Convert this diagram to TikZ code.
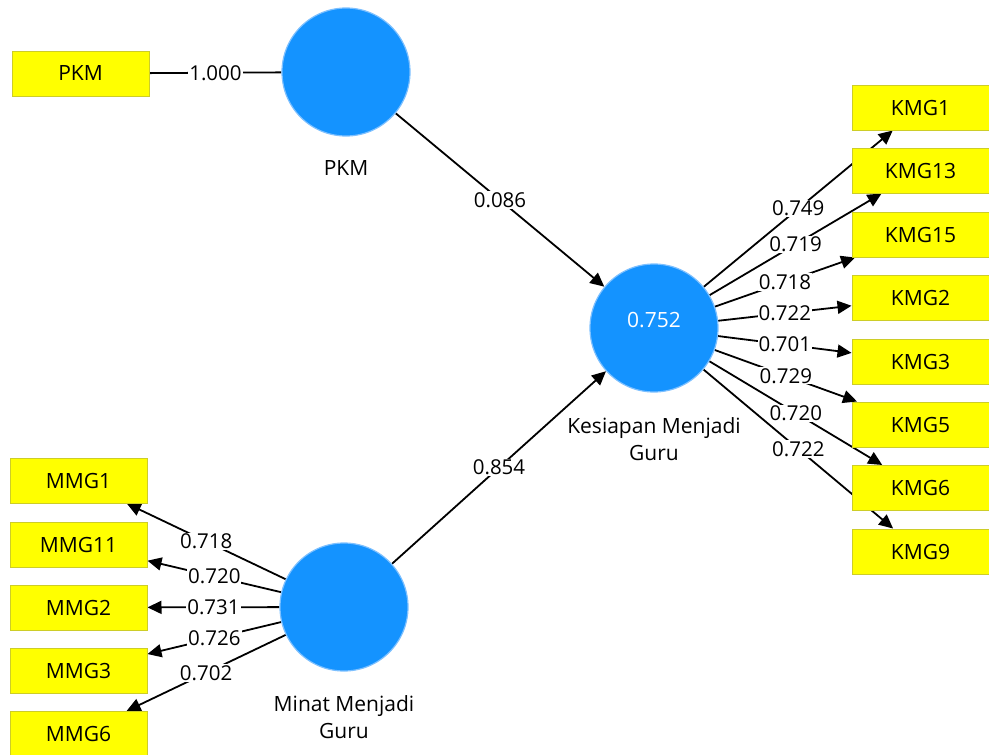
\documentclass[tikz,border=0pt]{standalone}
\usepackage{fontspec}
\setmainfont{Open Sans}
\usetikzlibrary{arrows.meta,backgrounds}
\definecolor{boxfill}{RGB}{255,255,0}
\definecolor{boxline}{RGB}{205,205,40}
\definecolor{lvfill}{RGB}{20,147,255}
\definecolor{lvline}{RGB}{125,192,255}
\begin{document}
\begin{tikzpicture}[x=1pt,y=-1pt,
 ind/.style={draw=boxline, line width=1pt, fill=boxfill, minimum width=137pt, minimum height=45pt, inner sep=0pt, font=\fontsize{21}{24}\selectfont},
 lv/.style={circle, draw=lvline, line width=1.2pt, fill=lvfill, minimum size=128pt, inner sep=0pt},
 lvname/.style={font=\fontsize{21}{27}\selectfont, align=center},
 conn/.style={line width=1.8pt, black},
 arr/.style={conn, -{Triangle[length=14pt,width=13pt]}},
 coef/.style={fill=white, inner sep=1pt, font=\fontsize{20.5}{24}\selectfont}
]
\useasboundingbox (0,0) rectangle (989,755);
% latent variables
\node[lv] (lvP) at (346,72) {};
\node[lv] (lvK) at (654,328) {};
\node[lv] (lvM) at (344,607) {};
\node[white, font=\fontsize{21}{24}\selectfont] (r2) at (654,320) {0.752};
\node[lvname] (nP) at (346,168) {PKM};
\node[lvname] (nK) at (654,439) {Kesiapan Menjadi\\Guru};
\node[lvname] (nM) at (344,717) {Minat Menjadi\\Guru};
% indicators
\node[ind] (pkm) at (80.5,73.5) {PKM};
\node[ind] (kmg1) at (920.5,107.5) {KMG1};
\node[ind] (kmg13) at (920.5,170.5) {KMG13};
\node[ind] (kmg15) at (920.5,234.5) {KMG15};
\node[ind] (kmg2) at (920.5,298) {KMG2};
\node[ind] (kmg3) at (920.5,361.5) {KMG3};
\node[ind] (kmg5) at (920.5,424.5) {KMG5};
\node[ind] (kmg6) at (920.5,488) {KMG6};
\node[ind] (kmg9) at (920.5,551.5) {KMG9};
\node[ind] (mmg1) at (78.5,480.5) {MMG1};
\node[ind] (mmg11) at (78.5,544.5) {MMG11};
\node[ind] (mmg2) at (78.5,607.5) {MMG2};
\node[ind] (mmg3) at (78.5,670.5) {MMG3};
\node[ind] (mmg6) at (78.5,734) {MMG6};
\begin{scope}[on background layer]
\draw[conn] (pkm) -- node[coef]{1.000} (lvP);
\draw[arr] (lvP) -- node[coef]{0.086} (lvK);
\draw[arr] (lvM) -- node[coef]{0.854} (lvK);
\draw[arr] (lvK) -- node[coef]{0.749} (kmg1);
\draw[arr] (lvK) -- node[coef]{0.719} (kmg13);
\draw[arr] (lvK) -- node[coef]{0.718} (kmg15);
\draw[arr] (lvK) -- node[coef]{0.722} (kmg2);
\draw[arr] (lvK) -- node[coef]{0.701} (kmg3);
\draw[arr] (lvK) -- node[coef]{0.729} (kmg5);
\draw[arr] (lvK) -- node[coef]{0.720} (kmg6);
\draw[arr] (lvK) -- node[coef]{0.722} (kmg9);
\draw[arr] (lvM) -- node[coef]{0.718} (mmg1);
\draw[arr] (lvM) -- node[coef]{0.720} (mmg11);
\draw[arr] (lvM) -- node[coef]{0.731} (mmg2);
\draw[arr] (lvM) -- node[coef]{0.726} (mmg3);
\draw[arr] (lvM) -- node[coef]{0.702} (mmg6);
\end{scope}
\end{tikzpicture}
\end{document}
